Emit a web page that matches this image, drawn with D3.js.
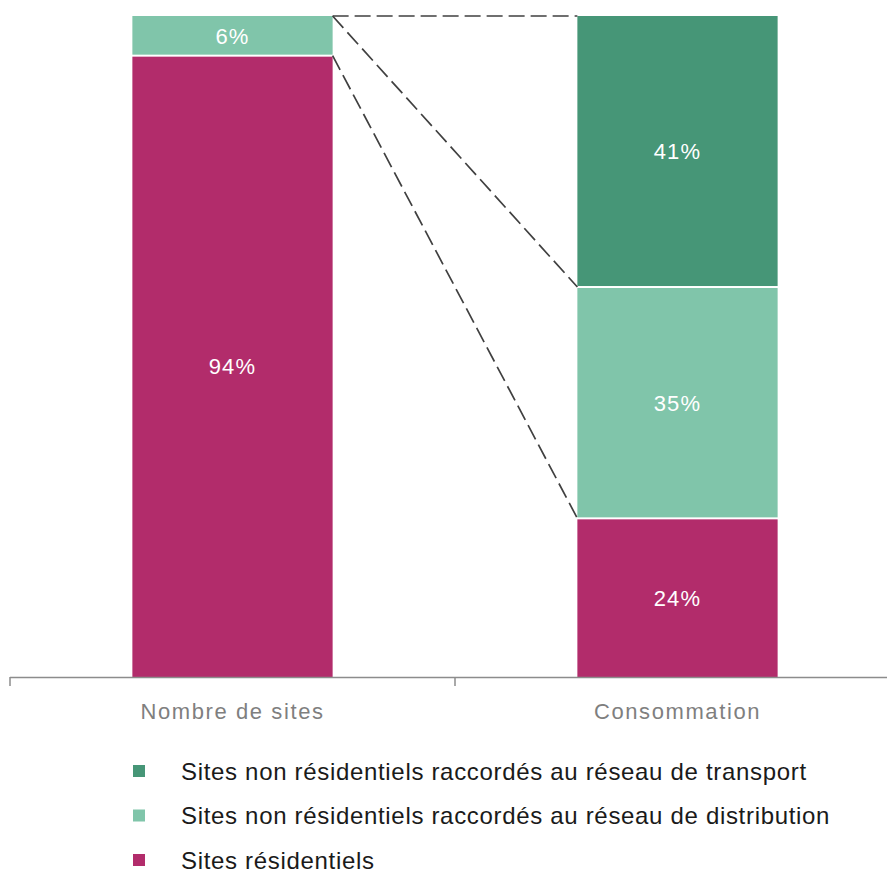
<!DOCTYPE html>
<html><head><meta charset="utf-8">
<script src="https://cdn.jsdelivr.net/npm/d3@7"></script>
<style>body{margin:0;background:#fff}svg{display:block}</style>
</head><body>
<svg id="c" width="887" height="873"></svg>
<script>
const categories = ["Nombre de sites", "Consommation"];
const seriesNames = ["Sites résidentiels", "Sites non résidentiels raccordés au réseau de distribution", "Sites non résidentiels raccordés au réseau de transport"];
const residentiel = [94, 24];
const distribution = [6, 35];
const transport = [0, 41];
const colors = ["#b22c6b", "#80c5aa", "#469677"];

const svg = d3.select("#c");
const FONT = "'Liberation Sans',Arial,sans-serif";
const x = d3.scaleBand().domain(categories).range([10, 900]).paddingInner(0.55).paddingOuter(0.275);
const y = d3.scaleLinear().domain([0, 100]).range([677, 16]);

const rows = categories.map((c, i) => ({cat: c, v: [residentiel[i], distribution[i], transport[i]]}));
const stack = d3.stack().keys([0, 1, 2]).value((d, k) => d.v[k]);
const layers = stack(rows);

layers.forEach((layer, k) => {
  layer.forEach(seg => {
    const val = seg[1] - seg[0];
    if (val <= 0) return;
    const cat = seg.data.cat;
    const top = y(seg[1]), bot = y(seg[0]);
    svg.append("rect")
      .attr("x", x(cat)).attr("width", x.bandwidth())
      .attr("y", top + (seg[1] < 100 ? 1 : 0))
      .attr("height", bot - top - (seg[1] < 100 ? 1 : 0) - (seg[0] > 0 ? 1 : 0))
      .attr("fill", colors[k]);
    svg.append("text")
      .attr("x", x(cat) + x.bandwidth() / 2)
      .attr("y", (top + bot) / 2)
      .attr("dy", "0.36em")
      .attr("text-anchor", "middle")
      .attr("font-family", FONT).attr("font-size", 22)
      .attr("letter-spacing", 1.2)
      .attr("fill", "#fff")
      .text(val + "%");
  });
});

// connector dashed lines
const L = categories[0], R = categories[1];
const xl = x(L) + x.bandwidth(), xr = x(R);
const connectors = [
  [y(100), y(100)],
  [y(100), y(residentiel[1] + distribution[1])],
  [y(residentiel[0]), y(residentiel[1])]
];
connectors.forEach(([y1, y2]) => {
  svg.append("line").attr("x1", xl).attr("y1", y1).attr("x2", xr).attr("y2", y2)
    .attr("stroke", "#404040").attr("stroke-width", 1.7).attr("stroke-dasharray", "16,6");
});

// axis
const ax = svg.append("g");
ax.append("line").attr("x1", 10).attr("x2", 900).attr("y1", 677.5).attr("y2", 677.5)
  .attr("stroke", "#8c8c8c").attr("stroke-width", 1.5);
const bounds = [x.range()[0], (x(L) + x.bandwidth() + x(R)) / 2, x.range()[1]];
bounds.forEach(b => {
  ax.append("line").attr("x1", b).attr("x2", b).attr("y1", 677).attr("y2", 686)
    .attr("stroke", "#8c8c8c").attr("stroke-width", 1.5);
});
categories.forEach(c => {
  ax.append("text").attr("x", x(c) + x.bandwidth() / 2).attr("y", 719)
    .attr("text-anchor", "middle").attr("font-family", FONT).attr("font-size", 22)
    .attr("letter-spacing", 1.6)
    .attr("fill", "#7f7f7f").text(c);
});

// legend
const legendOrder = [2, 1, 0];
legendOrder.forEach((k, i) => {
  const ly = 771 + i * 44.5;
  svg.append("rect").attr("x", 133).attr("y", ly - 6).attr("width", 12).attr("height", 12).attr("fill", colors[k]);
  svg.append("text").attr("x", 181).attr("y", ly).attr("dy", "0.36em")
    .attr("font-family", FONT).attr("font-size", 24).attr("letter-spacing", 0.68)
    .attr("fill", "#1a1a1a").text(seriesNames[k]);
});
</script>
</body></html>
